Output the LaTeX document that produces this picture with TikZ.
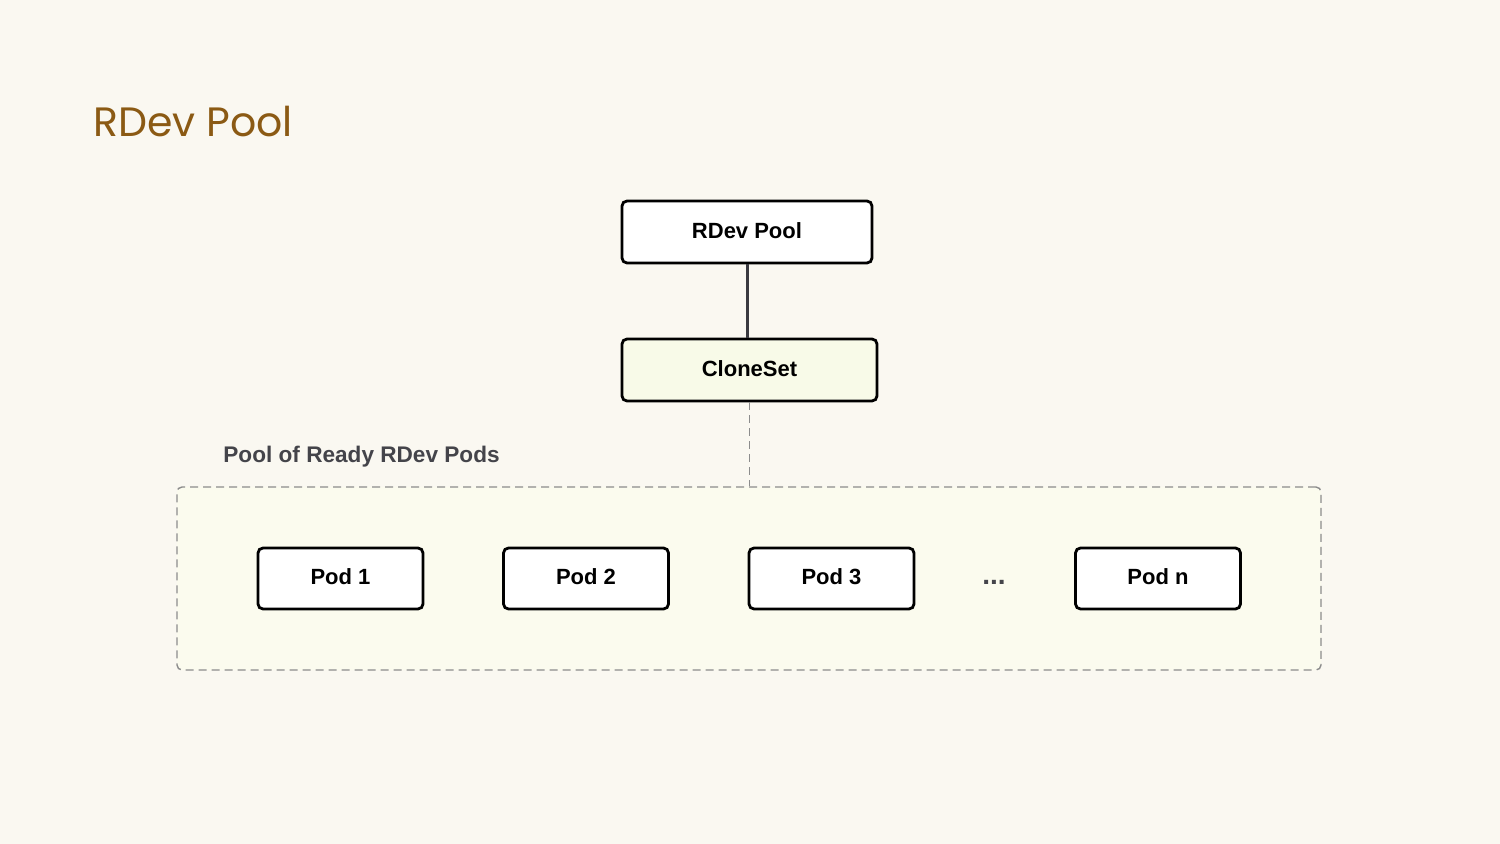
\documentclass[tikz,border=0pt]{standalone}
\usepackage{fontspec}
\setmainfont{Liberation Sans}
\newfontfamily\TitleFont{Poppins}
\usepackage{tikz}
\usetikzlibrary{arrows}
\definecolor{pagebg}{RGB}{250,248,241}
\definecolor{titlebrown}{RGB}{139,90,20}
\definecolor{poolfill}{RGB}{251,251,238}
\definecolor{clonefill}{RGB}{248,250,232}
\definecolor{edgegray}{RGB}{58,58,64}
\definecolor{dashgray}{RGB}{140,140,140}
\definecolor{labelgray}{RGB}{68,68,74}

\begin{document}
\begin{tikzpicture}[x=0.5pt,y=-0.5pt]
			\tikzstyle{boxs} = [draw, line width=1.4pt, fill=white, rounded corners=2.5pt,
				font=\fontsize{11}{13}\selectfont\bfseries, text depth=1.6pt,
				minimum width=125pt, minimum height=31pt]
			\tikzstyle{boxsG} = [boxs, fill=clonefill, minimum width=127.5pt]
			\tikzstyle{boxsP} = [boxs, minimum width=82.5pt, minimum height=30.5pt]
			\tikzstyle{pool} = [draw=dashgray, line width=0.7pt, dash pattern=on 4pt off 2.5pt,
				fill=poolfill, rounded corners=2.5pt, minimum width=572pt, minimum height=91.5pt]
			\tikzstyle{line} = [draw, edgegray, line width=1.5pt]
			\tikzstyle{lineD} = [draw, dashgray, line width=0.7pt, dash pattern=on 4pt off 2.5pt]

			% page
			\fill[pagebg] (0,0) rectangle (1500,844);
			\useasboundingbox (0,0) rectangle (1500,844);
			\node(Title)[anchor=base west, inner sep=0pt, text=titlebrown,
				font=\TitleFont\fontsize{20.5}{24}\selectfont] at (93,137) {RDev Pool};

			% hierarchy
			\node(RDevPool)[boxs] at (747,232) {RDev Pool};
			\node(CloneSet)[boxsG] at (749.5,370) {CloneSet};
			\node(PodPool)[pool] at (749,578.5) {};
			\node(PoolLabel)[anchor=west, inner sep=0pt, text=labelgray,
				font=\fontsize{11.3}{13}\selectfont\bfseries] at (223,456.5) {Pool of Ready RDev Pods};

			\path[line] (RDevPool.south) -- (RDevPool.south |- CloneSet.north);
			\path[lineD] (CloneSet.south) -- (CloneSet.south |- PodPool.north);

			% pods
			\tikzset{node distance = 122.75pt}
			\node(Pod1)[boxsP] at (340.5,578.5) {Pod 1};
			\node(Pod2)[boxsP, right of = Pod1] {Pod 2};
			\node(Pod3)[boxsP, right of = Pod2] {Pod 3};
			\node(PodN)[boxsP] at (1158,578.5) {Pod n};
			\node(Dots)[inner sep=0pt, text=labelgray, font=\fontsize{14}{16}\selectfont\bfseries] at (994,582.5) {...};

		\end{tikzpicture}
\end{document}
